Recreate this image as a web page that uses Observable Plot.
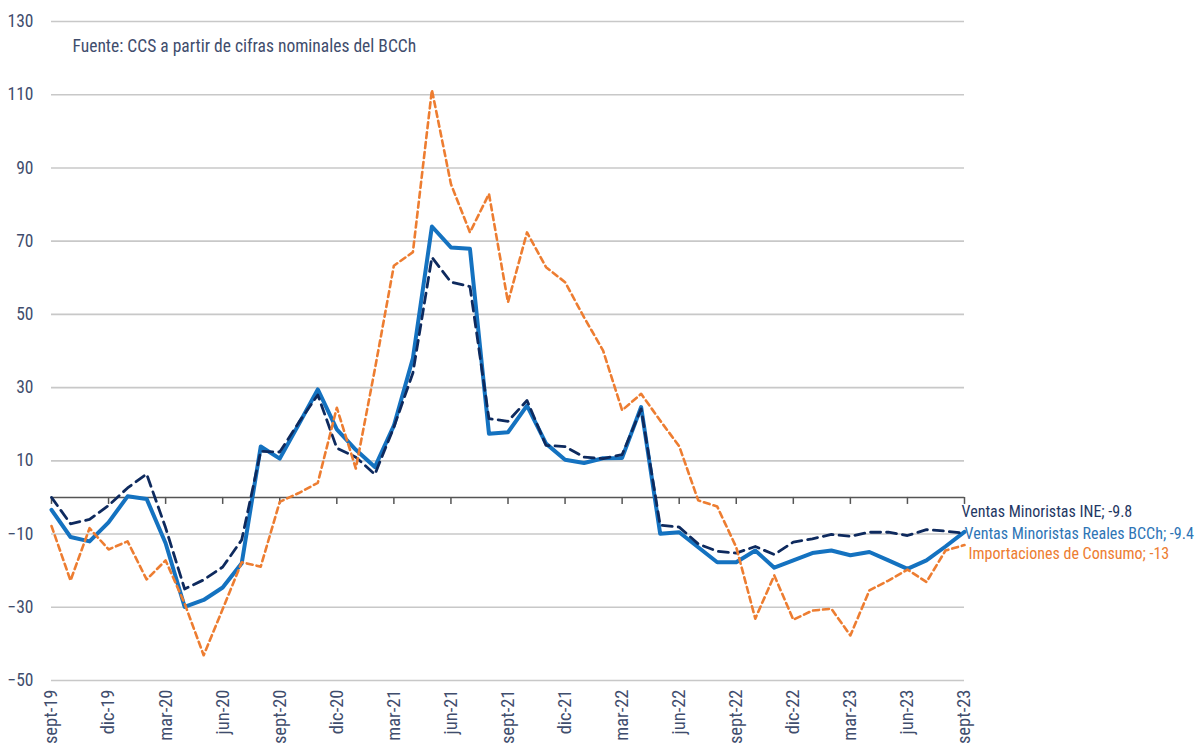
<!DOCTYPE html>
<html><head><meta charset="utf-8">
<script src="https://cdn.jsdelivr.net/npm/d3@7"></script>
<script src="https://cdn.jsdelivr.net/npm/@observablehq/plot@0.6"></script>
<style>
html,body{margin:0;padding:0;background:#fff;}
#chart{font-family:"Liberation Sans Narrow","Roboto Condensed","DejaVu Sans Condensed",sans-serif;}
</style></head><body><div id="chart"></div>
<script>
const months = ["sept-19","oct-19","nov-19","dic-19","ene-20","feb-20","mar-20","abr-20","may-20","jun-20","jul-20","ago-20",
"sept-20","oct-20","nov-20","dic-20","ene-21","feb-21","mar-21","abr-21","may-21","jun-21","jul-21","ago-21",
"sept-21","oct-21","nov-21","dic-21","ene-22","feb-22","mar-22","abr-22","may-22","jun-22","jul-22","ago-22",
"sept-22","oct-22","nov-22","dic-22","ene-23","feb-23","mar-23","abr-23","may-23","jun-23","jul-23","ago-23","sept-23"];
const tickLabels = ["sept-19","dic-19","mar-20","jun-20","sept-20","dic-20","mar-21","jun-21","sept-21","dic-21","mar-22","jun-22","sept-22","dic-22","mar-23","jun-23","sept-23"];
const ventasINE = [0,-7.2,-6,-2.2,2.6,6.4,-8.3,-25,-22.5,-19,-11.6,12.6,12.4,20.5,28,13.5,11,6.3,19.2,34,65.6,58.8,57.6,21.5,20.8,26.5,14.2,13.9,11,10.6,11.7,24.2,-7.6,-8.1,-12.7,-14.7,-15.2,-13.4,-15.6,-12.2,-11.3,-10.1,-10.6,-9.5,-9.5,-10.4,-8.8,-9.2,-9.8];
const ventasReales = [-3.4,-10.8,-12,-6.8,0.3,-0.4,-12.5,-29.9,-28,-24.6,-18,13.9,10.6,20,29.5,18.6,13,8.3,19.6,38,74,68.3,67.9,17.4,17.8,25.1,14.7,10.3,9.4,10.7,10.8,24.7,-9.9,-9.5,-13.6,-17.7,-17.7,-14.5,-19.2,-17.2,-15.2,-14.5,-15.8,-14.9,-17.2,-19.5,-17.2,-13.4,-9.4];
const importaciones = [-7.8,-22.7,-8.4,-14.2,-12,-22.4,-17.2,-29,-43.1,-30.5,-17.7,-18.9,-1.2,1.2,4,24.5,7.9,35,63.3,67,111.3,85.6,72.4,82.9,53.3,72.4,62.9,58.8,49.2,40.1,23.8,28.3,21,14,-0.8,-2.5,-13.6,-33.1,-21.3,-33.4,-30.9,-30.4,-37.7,-25.4,-22.7,-19.7,-23.1,-14.5,-13];
const yTicks = [-50,-30,-10,10,30,50,70,90,110,130];
const seriesNames = ["Ventas Minoristas INE","Ventas Minoristas Reales BCCh","Importaciones de Consumo"];
const endValues = ["-9.8","-9.4","-13"];
const sourceNote = "Fuente: CCS a partir de cifras nominales del BCCh";

const FONT = '"Liberation Sans Narrow","Roboto Condensed","DejaVu Sans Condensed",sans-serif';
const TXT = "#3f4d6d";
const COLORS = ["#0e2a5e", "#1472c0", "#ed7d31"];

const rows = (arr) => arr.map((v, i) => ({i, month: months[i], v}));
const ine = rows(ventasINE), rea = rows(ventasReales), imp = rows(importaciones);
const tickIdx = tickLabels.map(l => months.indexOf(l));
const last = months.length - 1;

const plot = Plot.plot({
  width: 1204, height: 752,
  marginLeft: 51, marginRight: 240, marginTop: 21, marginBottom: 72,
  style: {fontFamily: FONT, fontSize: "17px", color: TXT, background: "#fff", overflow: "visible"},
  x: {type: "linear", domain: [0, last]},
  y: {domain: [-50, 130]},
  marks: [
    Plot.gridY(yTicks, {stroke: "#c8c8c8", strokeOpacity: 1, strokeWidth: 1.6}),
    Plot.axisY(yTicks, {tickSize: 0, tickPadding: 18, fontSize: 17.5, fill: TXT, label: null}),
    Plot.axisX(tickIdx, {tickSize: 0, tickPadding: 9, tickRotate: -90, tickFormat: i => months[i], fontSize: 18.5, fill: TXT, label: null}),
    Plot.ruleY([0], {stroke: "#555", strokeWidth: 1.5}),
    Plot.ruleX(tickIdx, {x: d => d, y1: 0, y2: 0, insetBottom: -7, stroke: "#555", strokeWidth: 1.5}),
    Plot.line(rea, {x: "i", y: "v", stroke: COLORS[1], strokeWidth: 4}),
    Plot.line(ine, {x: "i", y: "v", stroke: COLORS[0], strokeWidth: 2.8, strokeDasharray: "10,6"}),
    Plot.line(imp, {x: "i", y: "v", stroke: COLORS[2], strokeWidth: 2.6, strokeDasharray: "6,4"}),
    Plot.text([ine[last]], {x: "i", y: "v", text: () => `${seriesNames[0]}; ${endValues[0]}`, textAnchor: "start", dx: -3, dy: -21, fill: "#1f3864", fontSize: 16}),
    Plot.text([rea[last]], {x: "i", y: "v", text: () => `${seriesNames[1]}; ${endValues[1]}`, textAnchor: "start", dx: 0, dy: 2, fill: "#2e75b6", fontSize: 16}),
    Plot.text([imp[last]], {x: "i", y: "v", text: () => `${seriesNames[2]}; ${endValues[2]}`, textAnchor: "start", dx: 4, dy: 9, fill: COLORS[2], fontSize: 16}),
    Plot.text([sourceNote], {frameAnchor: "top-left", text: d => d, dx: 21, dy: 18, fill: TXT, fontSize: 17.5, textAnchor: "start", lineAnchor: "top"})
  ]
});
document.getElementById("chart").appendChild(plot);
</script>
</body></html>
